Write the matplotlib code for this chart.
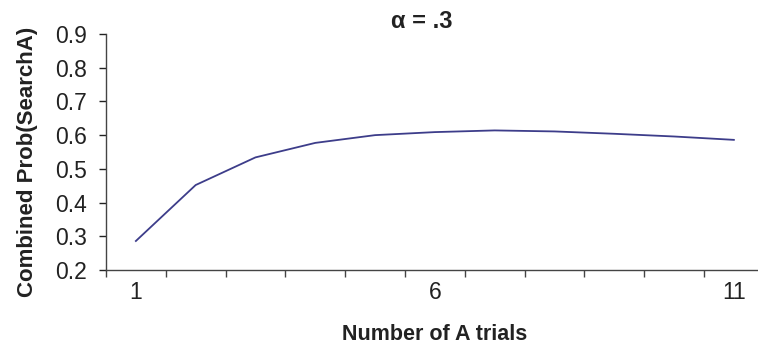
import numpy as np
import matplotlib.pyplot as plt
from matplotlib.ticker import FixedLocator

# valeurs
essais = [1, 2, 3, 4, 5, 6, 7, 8, 9, 10, 11]
prob_combinee = [0.286, 0.452, 0.534, 0.577, 0.600, 0.609, 0.614, 0.611, 0.604, 0.596, 0.586]
etiquettes_x = [1, 6, 11]
graduations_y = [0.2, 0.3, 0.4, 0.5, 0.6, 0.7, 0.8, 0.9]

plt.rcParams['font.family'] = ['Liberation Sans', 'DejaVu Sans']

fig = plt.figure(figsize=(7.58, 3.56), dpi=100)
ax = fig.add_axes([0.1398, 0.2416, 0.8678, 0.6629])

ax.plot(essais, prob_combinee, color='#3d3d8a', linewidth=1.3)

# axe en categories, facon tableur
ax.set_xlim(0.5, 11.5)
ax.set_ylim(0.2, 0.9)
ax.set_xticks(etiquettes_x)
ax.set_xticklabels([str(v) for v in etiquettes_x])
ax.xaxis.set_minor_locator(FixedLocator(np.arange(0.5, 11.6, 1.0)))
ax.tick_params(axis='x', which='major', length=0, pad=8, labelsize=16.5, colors='#222222')
ax.tick_params(axis='x', which='minor', length=5, width=1, direction='out', color='#444444')

ax.set_yticks(graduations_y)
ax.set_yticklabels(['%.1f' % v for v in graduations_y])
ax.tick_params(axis='y', which='major', length=5, width=1, direction='out',
               labelsize=16.5, pad=9, colors='#222222')

for cote in ['top', 'right']:
    ax.spines[cote].set_visible(False)
for cote in ['left', 'bottom']:
    ax.spines[cote].set_color('#444444')
    ax.spines[cote].set_linewidth(1)

ax.set_xlabel('Number of A trials', fontsize=15.5, fontweight='bold', color='#222222', labelpad=14)
ax.set_ylabel('Combined Prob(SearchA)', fontsize=16, fontweight='bold', color='#222222')
ax.yaxis.set_label_coords(-0.104, 0.46)
fig.text(0.556, 0.94, 'α = .3', ha='center', va='center', fontsize=17,
         fontweight='bold', color='#222222')

fig.savefig('out.png', dpi=100)
